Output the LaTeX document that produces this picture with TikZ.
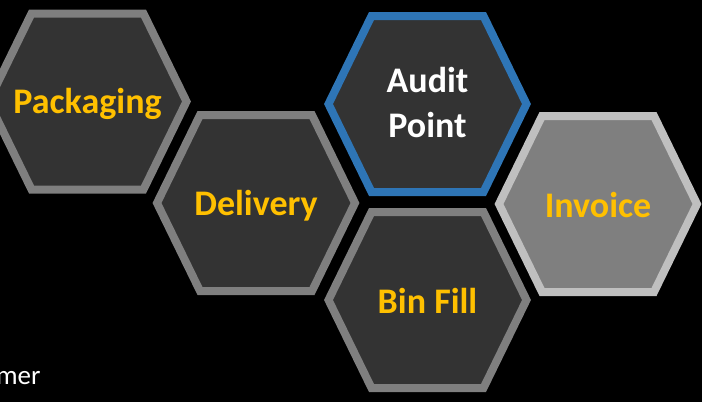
\documentclass[tikz,border=0pt]{standalone}
\usepackage{fontspec}
\setmainfont{Carlito}
\usepackage{xcolor}
\usepackage{tikz}
\usetikzlibrary{positioning}
\usetikzlibrary{calc}

\definecolor{hexfill}{HTML}{333333}
\definecolor{hexline}{HTML}{7F7F7F}
\definecolor{auditline}{HTML}{2E75B6}
\definecolor{invfill}{HTML}{7F7F7F}
\definecolor{invline}{HTML}{BFBFBF}
\definecolor{gold}{HTML}{FFC000}

\begin{document}
\begin{tikzpicture}[x=1pt,y=-1pt,hex/.style={line width=8pt,line join=miter},hexlabel/.style={font=\bfseries\fontsize{36}{45}\selectfont,text=gold,align=center}]
            \fill[black] (0,0) rectangle (702,402);
            \useasboundingbox (0,0) rectangle (702,402);
            % hexagon centres
            \coordinate (c1) at (87.5,101.5);
            \coordinate (c2) at (256,203);
            \coordinate (c3) at (427.5,104);
            \coordinate (c4) at (427.5,300);
            \coordinate (c5) at (598,204);
            \foreach \c/\f/\d in {c1/hexfill/hexline,c2/hexfill/hexline,c3/hexfill/auditline,c4/hexfill/hexline,c5/invfill/invline}
              \draw[hex,fill=\f,draw=\d] (\c) ++(-99,0) -- ++(43,-88) -- ++(112,0) -- ++(43,88) -- ++(-43,88) -- ++(-112,0) -- cycle;
            \begin{scope}[every node/.style={hexlabel,anchor=base}]
              \node (packaging) at ($(c1)+(0,11.5)$) {Packaging};
              \node (delivery) at ($(c2)+(0,12)$) {Delivery};
              \node (binfill) at ($(c4)+(0,13)$) {Bin Fill};
              \node (invoice) at ($(c5)+(0,13)$) {Invoice};
            \end{scope}
            \node[hexlabel,text=white] (audit) at (427.5,102) {Audit\\Point};
            \node[font=\fontsize{27}{32}\selectfont,text=white,anchor=base east] (customer) at (44,384) {Customer};
          \end{tikzpicture}
\end{document}
